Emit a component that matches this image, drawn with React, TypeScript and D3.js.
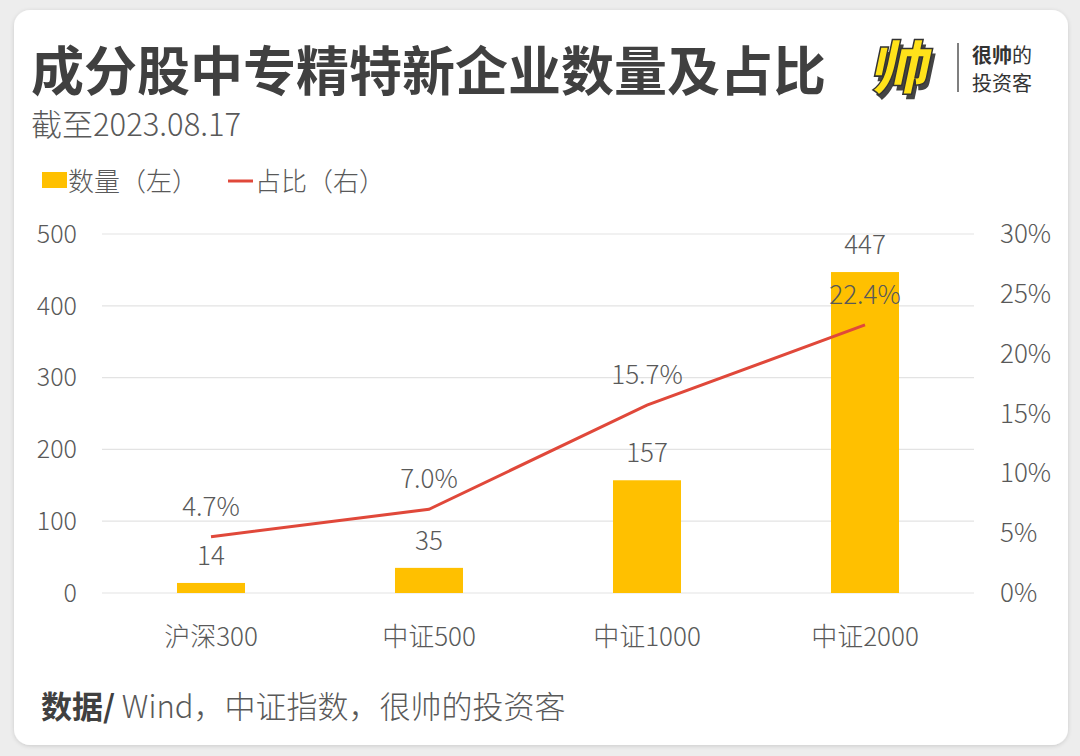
import React, { useEffect, useRef } from 'react';
import * as d3 from 'd3';

const categories = ['沪深300', '中证500', '中证1000', '中证2000'];
const counts = [14, 35, 157, 447];
const shares = [4.7, 7.0, 15.7, 22.4];
const leftTicks = [0, 100, 200, 300, 400, 500];
const rightTicks = [0, 5, 10, 15, 20, 25, 30];

const FONT = '"Noto Sans CJK SC", "Noto Sans", sans-serif';
const BAR = '#FFC000';
const LINE = '#E0483A';
const TEXT = '#595959';

const App: React.FC = () => {
  const ref = useRef<SVGSVGElement>(null);

  useEffect(() => {
    if (!ref.current) return;
    const svg = d3.select(ref.current);
    svg.selectAll('*').remove();

    // card background
    const defs = svg.append('defs');
    const f = defs.append('filter').attr('id', 'shadow').attr('x', '-5%').attr('y', '-5%').attr('width', '110%').attr('height', '110%');
    f.append('feDropShadow').attr('dx', 0).attr('dy', 1).attr('stdDeviation', 2).attr('flood-color', '#000').attr('flood-opacity', 0.15);

    svg.append('rect').attr('width', 1080).attr('height', 756).attr('fill', '#ededed');
    svg.append('rect')
      .attr('x', 14).attr('y', 10).attr('width', 1054).attr('height', 735)
      .attr('rx', 16).attr('fill', '#fff').attr('filter', 'url(#shadow)');

    // title
    svg.append('text').attr('x', 31).attr('y', 91)
      .style('font-family', FONT).style('font-size', '53px').style('font-weight', 700)
      .attr('fill', '#404040').text('成分股中专精特新企业数量及占比');
    svg.append('text').attr('x', 31).attr('y', 136)
      .style('font-family', FONT).style('font-size', '31px').style('font-weight', 300)
      .attr('fill', TEXT).text('截至2023.08.17');

    // logo
    const logo = svg.append('g');
    logo.append('text').attr('x', 872).attr('y', 94)
      .attr('transform', 'skewX(-12) translate(20,0)')
      .style('font-family', FONT).style('font-size', '58px').style('font-weight', 900)
      .attr('fill', '#444').text('帅');
    logo.append('text').attr('x', 868).attr('y', 89)
      .attr('transform', 'skewX(-12) translate(20,0)')
      .style('font-family', FONT).style('font-size', '58px').style('font-weight', 900)
      .attr('fill', '#FFE21A').attr('stroke', '#333').attr('stroke-width', 1.5).text('帅');
    logo.append('line').attr('x1', 958).attr('x2', 958).attr('y1', 43).attr('y2', 92)
      .attr('stroke', '#555').attr('stroke-width', 1.5);
    const lt = logo.append('text').attr('x', 972).attr('y', 63)
      .style('font-family', FONT).style('font-size', '20px').attr('fill', '#333');
    lt.append('tspan').style('font-weight', 700).text('很帅');
    lt.append('tspan').text('的');
    logo.append('text').attr('x', 972).attr('y', 91)
      .style('font-family', FONT).style('font-size', '20px').attr('fill', '#333').text('投资客');

    // legend
    svg.append('rect').attr('x', 42).attr('y', 172).attr('width', 25).attr('height', 16).attr('fill', BAR);
    svg.append('text').attr('x', 68).attr('y', 191)
      .style('font-family', FONT).style('font-size', '26px').style('font-weight', 300)
      .attr('fill', TEXT).text('数量（左）');
    svg.append('line').attr('x1', 228).attr('x2', 253).attr('y1', 181).attr('y2', 181)
      .attr('stroke', LINE).attr('stroke-width', 3);
    svg.append('text').attr('x', 255).attr('y', 191)
      .style('font-family', FONT).style('font-size', '26px').style('font-weight', 300)
      .attr('fill', TEXT).text('占比（右）');

    // plot
    const x = d3.scaleBand().domain(categories).range([102, 974]).paddingInner(0.688).paddingOuter(0.344);
    const yL = d3.scaleLinear().domain([0, 500]).range([593, 234]);
    const yR = d3.scaleLinear().domain([0, 30]).range([593, 234]);

    const g = svg.append('g');
    g.selectAll('.grid').data(leftTicks).enter().append('line')
      .attr('x1', 102).attr('x2', 974)
      .attr('y1', d => yL(d)).attr('y2', d => yL(d))
      .attr('stroke', '#e3e3e3').attr('stroke-width', 1.2);

    g.selectAll('.lt').data(leftTicks).enter().append('text')
      .attr('x', 77).attr('y', d => yL(d)).attr('dy', '0.35em')
      .attr('text-anchor', 'end')
      .style('font-family', FONT).style('font-size', '25px').style('font-weight', 300)
      .attr('fill', TEXT).text(d => String(d));

    g.selectAll('.rt').data(rightTicks).enter().append('text')
      .attr('x', 1000).attr('y', d => yR(d)).attr('dy', '0.35em')
      .style('font-family', FONT).style('font-size', '26px').style('font-weight', 300)
      .attr('fill', TEXT).text(d => `${d}%`);

    g.selectAll('.bar').data(counts).enter().append('rect')
      .attr('x', (d, i) => x(categories[i]) as number)
      .attr('width', x.bandwidth())
      .attr('y', d => yL(d))
      .attr('height', d => yL(0) - yL(d))
      .attr('fill', BAR);

    const cx = (i: number) => (x(categories[i]) as number) + x.bandwidth() / 2;

    g.selectAll('.bl').data(counts).enter().append('text')
      .attr('x', (d, i) => cx(i)).attr('y', d => yL(d) - 18)
      .attr('text-anchor', 'middle')
      .style('font-family', FONT).style('font-size', '26px').style('font-weight', 300)
      .attr('fill', TEXT).text(d => String(d));

    const line = d3.line<number>().x((d, i) => cx(i)).y(d => yR(d));
    g.append('path').datum(shares).attr('d', line)
      .attr('fill', 'none').attr('stroke', LINE).attr('stroke-width', 3);

    g.selectAll('.sl').data(shares).enter().append('text')
      .attr('x', (d, i) => cx(i)).attr('y', d => yR(d) - 21)
      .attr('text-anchor', 'middle')
      .style('font-family', FONT).style('font-size', '26px').style('font-weight', 300)
      .attr('fill', TEXT).text(d => `${d.toFixed(1)}%`);

    g.selectAll('.cat').data(categories).enter().append('text')
      .attr('x', (d, i) => cx(i)).attr('y', 646)
      .attr('text-anchor', 'middle')
      .style('font-family', FONT).style('font-size', '26px').style('font-weight', 300)
      .attr('fill', TEXT).text(d => d);

    // footer
    const ft = svg.append('text').attr('x', 41).attr('y', 718)
      .style('font-family', FONT).style('font-size', '31px').attr('fill', TEXT);
    ft.append('tspan').style('font-weight', 700).attr('fill', '#404040').text('数据/');
    ft.append('tspan').style('font-weight', 300).text(' Wind，中证指数，很帅的投资客');
  }, []);

  return (
    <svg ref={ref} width={1080} height={756}
      style={{ position: 'absolute', left: 0, top: 0, display: 'block' }} />
  );
};

export default App;
